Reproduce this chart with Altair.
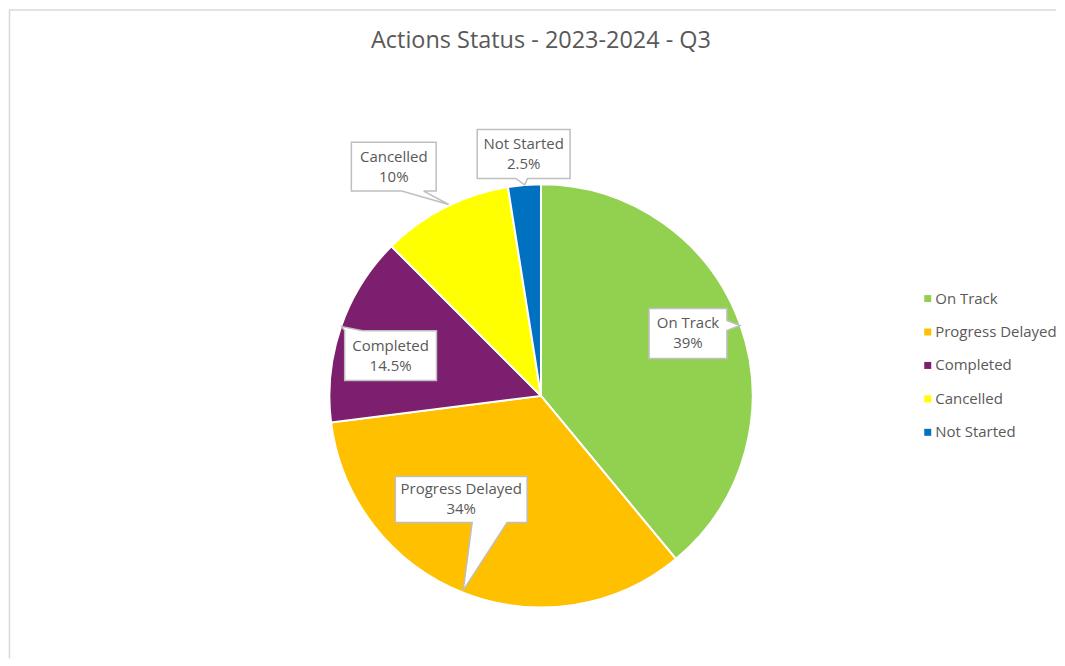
import altair as alt
import pandas as pd
import math

# ---- data ----
categories = ["On Track", "Progress Delayed", "Completed", "Cancelled", "Not Started"]
shares = [39, 34, 14.5, 10, 2.5]
colors = ["#92D050", "#FFC000", "#7B1F6E", "#FFFF00", "#0070C0"]
title_text = "Actions Status - 2023-2024 - Q3"

# ---- layout (not data) ----
W, H = 1049, 650
CX, CY, R = 533, 387, 212
FONT = "Open Sans"
TEXT_COLOR = "#595959"

# label callout layout: (angle deg clockwise from 12 o'clock, radius px, box w, box h, tail spec)
callouts = {
    "On Track": (67, 160, 78, 50, ("right", -13, -3, 52, -8)),
    "Progress Delayed": (217.6, 131, 132, 46, ("bottom", 11, 46, 2, 91)),
    "Completed": (285, 156, 92, 50, ("top", -46, -28, -49, -29)),
    "Cancelled": (327.3, 273, 85, 49, ("bottom", 8, 30, 55, 38)),
    "Not Started": (355.9, 243, 93, 49, ("bottom", -8, 4, 1, 31)),
}


def bubble_path(w, h, tail):
    hw, hh = w / 2, h / 2
    side, a, b, tx, ty = tail
    if side == "bottom":
        pts = [(-hw, -hh), (hw, -hh), (hw, hh), (b, hh), (tx, ty), (a, hh), (-hw, hh)]
    elif side == "right":
        pts = [(-hw, -hh), (hw, -hh), (hw, a), (tx, ty), (hw, b), (hw, hh), (-hw, hh)]
    else:  # top
        pts = [(-hw, -hh), (a, -hh), (tx, ty), (b, -hh), (hw, -hh), (hw, hh), (-hw, hh)]
    return "M" + "L".join(f"{x:.1f},{y:.1f}" for x, y in pts) + "Z"


pie_df = pd.DataFrame({
    "category": categories,
    "share": shares,
    "idx": list(range(len(categories))),
})

rows = []
for cat, val in zip(categories, shares):
    ang, rad, bw, bh, tail = callouts[cat]
    a = math.radians(ang)
    rows.append({
        "category": cat,
        "label": f"{cat}\n{val:g}%",
        "lx": CX + rad * math.sin(a),
        "ly": CY - rad * math.cos(a),
        "path": bubble_path(bw, bh, tail),
    })
lab_df = pd.DataFrame(rows)

color_scale = alt.Scale(domain=categories, range=colors)

pie = alt.Chart(pie_df).mark_arc(
    outerRadius=R, stroke="white", strokeWidth=2
).encode(
    theta=alt.Theta("share:Q", stack=True),
    color=alt.Color(
        "category:N",
        scale=color_scale,
        sort=categories,
        legend=alt.Legend(
            title=None,
            orient="none",
            legendX=913,
            legendY=282,
            symbolType="square",
            symbolSize=49,
            symbolStrokeWidth=0,
            labelFont=FONT,
            labelFontSize=15,
            labelColor=TEXT_COLOR,
            labelOffset=0,
            rowPadding=17.5,
        ),
    ),
    order=alt.Order("idx:Q"),
    x=alt.value(CX),
    y=alt.value(CY),
)

boxes = alt.Chart(lab_df).mark_point(
    filled=True, fill="white", stroke="#BFBFBF", strokeWidth=1.5, size=4, opacity=1
).encode(
    x=alt.X("lx:Q", scale=None, axis=None),
    y=alt.Y("ly:Q", scale=None, axis=None),
    shape=alt.Shape("path:N", scale=None, legend=None),
)

texts = alt.Chart(lab_df).mark_text(
    font=FONT, fontSize=15, color=TEXT_COLOR, lineBreak="\n", lineHeight=20,
    align="center", baseline="middle", dy=-10
).encode(
    x=alt.X("lx:Q", scale=None, axis=None),
    y=alt.Y("ly:Q", scale=None, axis=None),
    text="label:N",
)

title = alt.Chart(pd.DataFrame({"t": [title_text]})).mark_text(
    font=FONT, fontSize=23.5, color=TEXT_COLOR, align="center", baseline="middle"
).encode(
    x=alt.value(CX), y=alt.value(31), text="t:N"
)

frame_top = alt.Chart(pd.DataFrame({"t": [0]})).mark_rule(
    color="#D9D9D9", strokeWidth=1.5
).encode(x=alt.value(0), x2=alt.value(W), y=alt.value(0.5))
frame_left = alt.Chart(pd.DataFrame({"t": [0]})).mark_rule(
    color="#D9D9D9", strokeWidth=1.5
).encode(x=alt.value(0.5), y=alt.value(0), y2=alt.value(H))

chart = alt.layer(frame_top, frame_left, title, pie, boxes, texts).properties(
    width=W, height=H, padding=0, background="white"
).configure_view(strokeWidth=0, stroke="transparent")

chart.save("out.html", embed_options={"renderer": "svg", "actions": False})
